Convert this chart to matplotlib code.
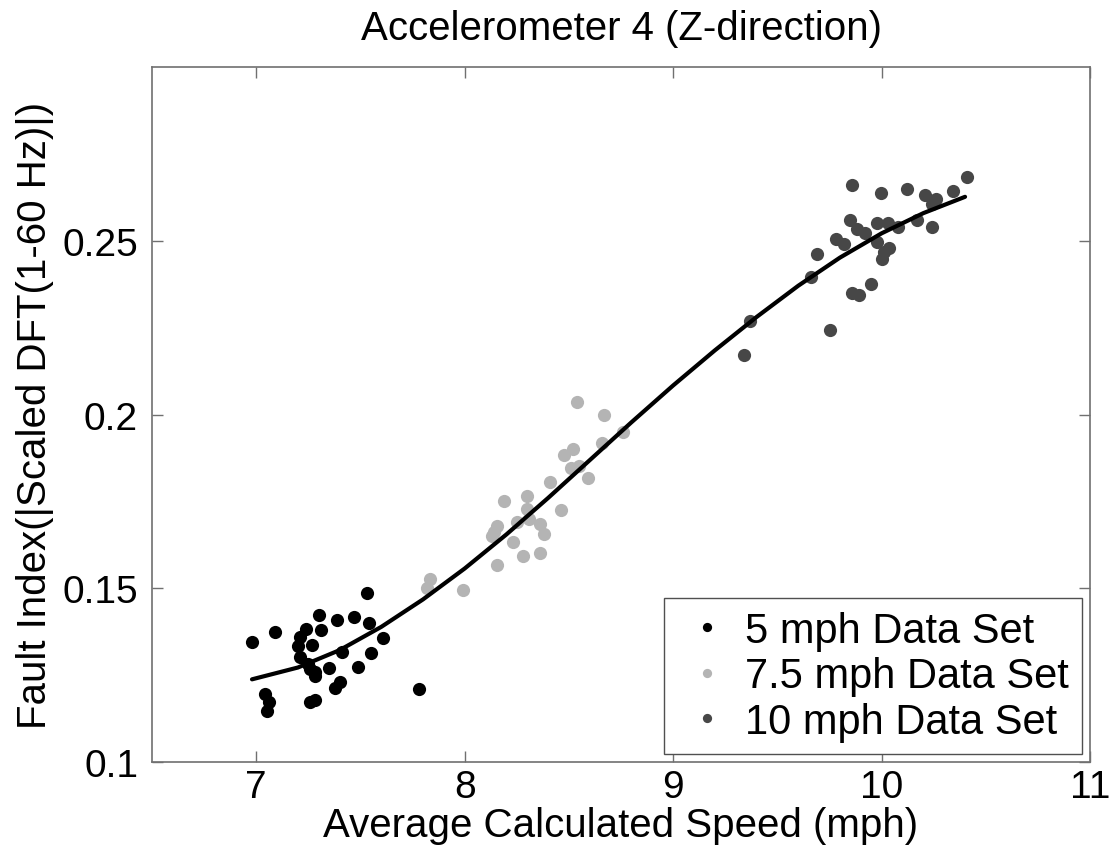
import matplotlib
matplotlib.use("Agg")
import matplotlib.pyplot as plt

plt.rcParams["font.family"] = ["Liberation Sans", "DejaVu Sans"]

# 5 mph data set
x5 = [6.98, 7.09, 7.53, 7.30, 7.39, 7.47, 7.24, 7.31, 7.54, 7.21, 7.20, 7.27, 7.61, 7.21, 7.41,
      7.55, 7.25, 7.26, 7.28, 7.35, 7.28, 7.49, 7.40, 7.38, 7.78, 7.04, 7.06, 7.05, 7.26, 7.28]
y5 = [0.1346, 0.1373, 0.1486, 0.1423, 0.1410, 0.1418, 0.1383, 0.1381, 0.1400, 0.1359, 0.1333,
      0.1338, 0.1356, 0.1301, 0.1316, 0.1314, 0.1282, 0.1268, 0.1258, 0.1272, 0.1248, 0.1274,
      0.1229, 0.1213, 0.1210, 0.1196, 0.1172, 0.1146, 0.1172, 0.1179]
# 7.5 mph data set
x75 = [8.54, 8.67, 8.76, 8.66, 8.52, 8.475, 8.51, 8.55, 8.59, 8.41, 8.19, 8.30, 8.30, 8.46,
       8.25, 8.31, 8.36, 8.155, 8.14, 8.13, 8.38, 8.23, 8.28, 8.36, 8.155, 7.835, 7.82, 7.99]
y75 = [0.2035, 0.1999, 0.1949, 0.1918, 0.1901, 0.1883, 0.1845, 0.1851, 0.1819, 0.1807, 0.1752,
       0.1765, 0.1728, 0.1725, 0.1690, 0.1699, 0.1685, 0.1680, 0.1661, 0.1651, 0.1656, 0.1634,
       0.1594, 0.1601, 0.1567, 0.1527, 0.1500, 0.1496]
# 10 mph data set
x10 = [10.41, 9.86, 9.995, 10.12, 10.21, 10.26, 10.34, 10.24, 9.85, 9.98, 10.03, 10.08, 10.17,
       10.24, 9.88, 9.92, 9.78, 9.82, 9.98, 10.035, 10.01, 10.00, 9.69, 9.66, 9.95, 9.86, 9.89,
       9.37, 9.75, 9.34]
y10 = [0.2685, 0.2660, 0.2639, 0.2649, 0.2632, 0.2622, 0.2644, 0.2606, 0.2560, 0.2551, 0.2553,
       0.2539, 0.2561, 0.2541, 0.2534, 0.2522, 0.2505, 0.2491, 0.2496, 0.2481, 0.2468, 0.2447,
       0.2462, 0.2395, 0.2376, 0.2350, 0.2345, 0.2270, 0.2243, 0.2171]
# fitted curve
fit_x = [6.98, 7.2, 7.4, 7.6, 7.8, 8.0, 8.2, 8.4, 8.6, 8.8, 9.0, 9.2, 9.4, 9.6, 9.8, 10.0,
         10.2, 10.4]
fit_y = [0.1238, 0.1272, 0.1322, 0.1389, 0.1468, 0.1557, 0.1655, 0.1760, 0.1869, 0.1978,
         0.2084, 0.2185, 0.2281, 0.2371, 0.2452, 0.2522, 0.2580, 0.2627]

fig = plt.figure(figsize=(11.09, 8.53), dpi=100)
ax = fig.add_axes([0.137, 0.1055, 0.846, 0.8145])

ax.plot(x5, y5, "o", ms=9.5, color="black", mec="none", label="5 mph Data Set")
ax.plot(x75, y75, "o", ms=9.5, color="#b4b4b4", mec="none", label="7.5 mph Data Set")
ax.plot(x10, y10, "o", ms=9.5, color="#474747", mec="none", label="10 mph Data Set")
ax.plot(fit_x, fit_y, "-", color="black", lw=3, solid_capstyle="round", solid_joinstyle="round")

ax.set_xlim(6.5, 11)
ax.set_ylim(0.1, 0.3)
ax.set_xticks([7, 8, 9, 10, 11])
ax.set_yticks([0.1, 0.15, 0.2, 0.25])
ax.set_yticklabels(["0.1", "0.15", "0.2", "0.25"])
ax.tick_params(direction="in", length=8, width=1, color="#707070", labelsize=28,
               top=True, right=True, pad=10)
ax.tick_params(axis="x", pad=5)
for s in ax.spines.values():
    s.set_color("#707070")
    s.set_linewidth(1.2)

ax.set_title("Accelerometer 4 (Z-direction)", fontsize=29, pad=20)
ax.set_xlabel("Average Calculated Speed (mph)", fontsize=29, labelpad=1)
ax.set_ylabel("Fault Index(|Scaled DFT(1-60 Hz)|)", fontsize=29, labelpad=6)

leg = ax.legend(loc="lower right", bbox_to_anchor=(0.991, 0.0115), fontsize=30,
                markerscale=0.7, handlelength=1.45, handletextpad=0.2, labelspacing=0.13,
                borderpad=0.3, borderaxespad=0, fancybox=False, framealpha=1)
leg.get_frame().set_edgecolor("#505050")
leg.get_frame().set_linewidth(1.0)

fig.savefig("out.png", dpi=100)
